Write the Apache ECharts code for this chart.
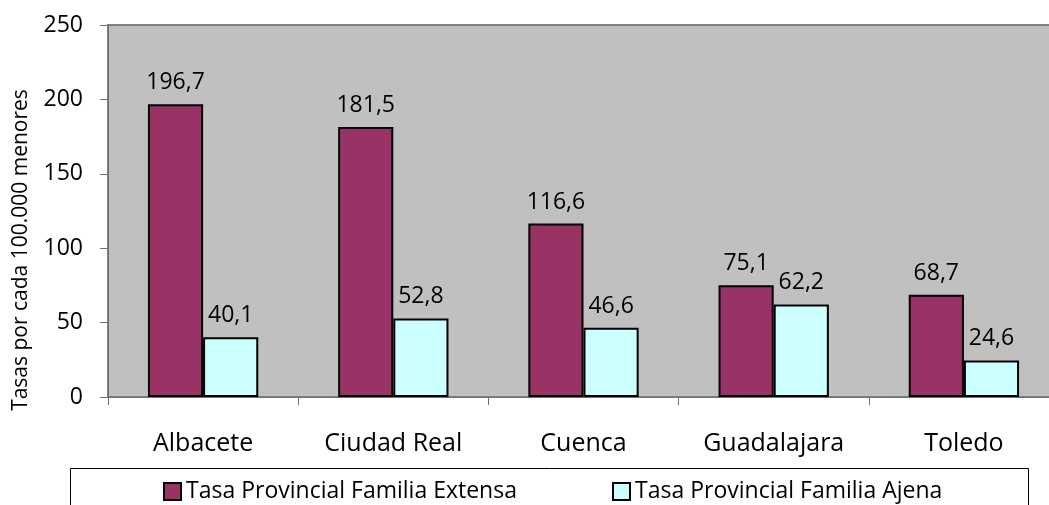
<!DOCTYPE html>
<html>
<head>
<meta charset="utf-8">
<title>Tasas provinciales de acogimiento</title>
<script src="https://cdn.jsdelivr.net/npm/echarts@6/dist/echarts.min.js"></script>
<style>
  html, body { margin: 0; padding: 0; background: #fff; }
  #chart { width: 1049px; height: 505px; }
</style>
</head>
<body>
<div id="chart"></div>
<script>
// Provincias
const provincias = ['Albacete', 'Ciudad Real', 'Cuenca', 'Guadalajara', 'Toledo'];
// Tasas por cada 100.000 menores
const familiaExtensa = [196.7, 181.5, 116.6, 75.1, 68.7];
const familiaAjena = [40.1, 52.8, 46.6, 62.2, 24.6];
const nombreExtensa = 'Tasa Provincial Familia Extensa';
const nombreAjena = 'Tasa Provincial Familia Ajena';
const tituloEjeY = 'Tasas por cada 100.000 menores';
const ejeY = { min: 0, max: 250, interval: 50 };

const FONT = 'Open Sans';
const fmtComa = v => String(v).replace('.', ',');

const chart = echarts.init(document.getElementById('chart'), null, { renderer: 'canvas' });

const labelStyle = {
  show: true,
  position: 'top',
  distance: 10,
  color: '#000',
  fontFamily: FONT,
  fontSize: 23,
  formatter: p => fmtComa(p.value)
};

const legendBase = {
  top: 480,
  itemWidth: 17,
  itemHeight: 17,
  itemGap: 0,
  padding: 0,
  selectedMode: false,
  icon: 'rect',
  itemStyle: { borderColor: '#000', borderWidth: 2 },
  textStyle: { color: '#000', fontFamily: FONT, fontSize: 23 }
};

chart.setOption({
  animation: false,
  backgroundColor: '#fff',
  textStyle: { fontFamily: FONT },
  grid: {
    left: 108,
    top: 25,
    width: 951,
    height: 372,
    containLabel: false,
    outerBoundsMode: 'none',
    show: true,
    backgroundColor: '#C0C0C0',
    borderColor: '#808080',
    borderWidth: 2
  },
  xAxis: {
    type: 'category',
    data: provincias,
    boundaryGap: true,
    axisLine: { show: true, lineStyle: { color: '#707070', width: 1 } },
    axisTick: { show: true, length: 8, inside: false, lineStyle: { color: '#707070' } },
    axisLabel: { color: '#000', fontFamily: FONT, fontSize: 25, margin: 34 },
    splitLine: { show: false }
  },
  yAxis: {
    type: 'value',
    min: ejeY.min,
    max: ejeY.max,
    interval: ejeY.interval,
    axisLine: { show: true, lineStyle: { color: '#707070', width: 1 } },
    axisTick: { show: true, length: 8, inside: false, lineStyle: { color: '#707070' } },
    axisLabel: { color: '#000', fontFamily: FONT, fontSize: 23, margin: 25 },
    splitLine: { show: false }
  },
  legend: [
    Object.assign({ data: [nombreExtensa], left: 163 }, legendBase),
    Object.assign({ data: [nombreAjena], left: 612 }, legendBase)
  ],
  graphic: [
    {
      // marco de la leyenda
      type: 'rect',
      silent: true,
      z: -1,
      shape: { x: 70.5, y: 468.5, width: 958, height: 60 },
      style: { fill: '#fff', stroke: '#000', lineWidth: 1 }
    },
    {
      // título del eje vertical
      type: 'text',
      silent: true,
      x: 21,
      y: 250,
      rotation: Math.PI / 2,
      style: {
        text: tituloEjeY,
        fill: '#000',
        font: '21px "Open Sans"',
        textAlign: 'center',
        textVerticalAlign: 'middle'
      }
    }
  ],
  series: [
    {
      name: nombreExtensa,
      type: 'bar',
      data: familiaExtensa,
      barGap: '0%',
      barCategoryGap: '42%',
      itemStyle: { color: '#993366', borderColor: '#000', borderWidth: 2 },
      label: labelStyle
    },
    {
      name: nombreAjena,
      type: 'bar',
      data: familiaAjena,
      barGap: '0%',
      barCategoryGap: '42%',
      itemStyle: { color: '#CCFFFF', borderColor: '#000', borderWidth: 2 },
      label: labelStyle
    }
  ]
});
</script>
</body>
</html>
